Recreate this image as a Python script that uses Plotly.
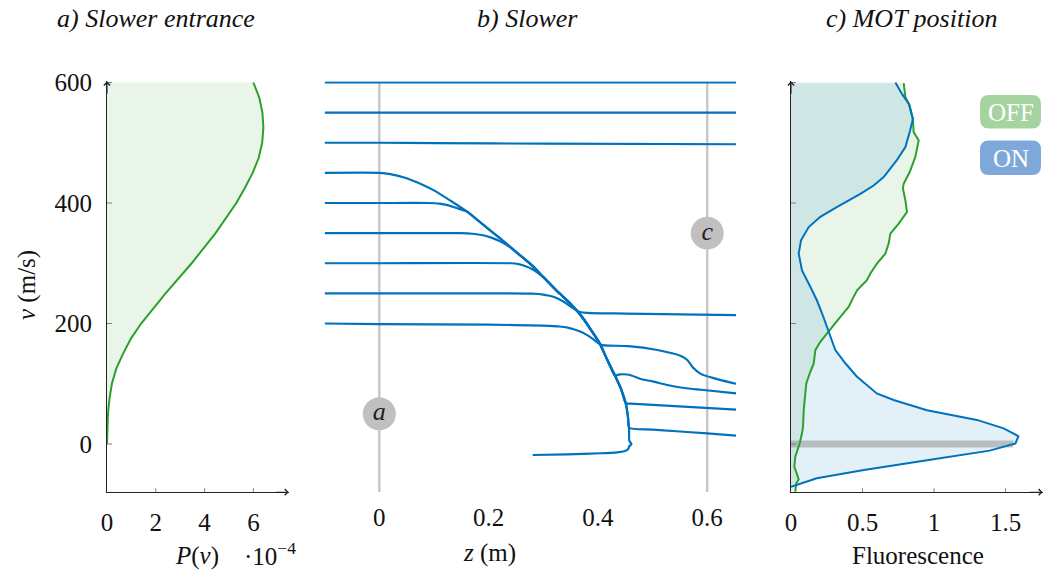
import numpy as np
import plotly.graph_objects as go

W, H = 1044, 575
FONT = "Liberation Serif"
BLUE = "#0072bd"
GREEN = "#2ca02c"
AXC = "#222222"
TICKC = "#808080"

# ---------------- panel a: velocity distribution at slower entrance ----------------
PA_V = [0, 25, 50, 75, 100, 125, 150, 175, 200, 250, 300, 350, 400, 425, 450, 475, 500, 525, 550, 575, 600]
PA_P = [0, 0.01, 0.04, 0.1, 0.2, 0.38, 0.66, 0.98, 1.4, 2.4, 3.47, 4.45, 5.3, 5.65, 5.97, 6.22, 6.36, 6.41, 6.37, 6.24, 6.0]
PA_XTICKS = [0, 2, 4, 6]
V_TICKS = [0, 200, 400, 600]

# ---------------- panel b: slower trajectories ----------------
ENV_Z = [0.0, 0.02, 0.05, 0.08, 0.10, 0.13, 0.16, 0.19, 0.22, 0.25, 0.28, 0.30, 0.325, 0.344,
         0.356, 0.37, 0.387, 0.40, 0.405, 0.417, 0.431, 0.443, 0.451, 0.455, 0.457, 0.4575]
ENV_V = [450, 448, 441, 430, 421, 404, 386, 364, 342, 319, 296, 277, 254, 238,
         227, 212, 190, 172, 164, 140, 114, 90, 67.5, 45, 27, 5]

T600_Z = [-0.1, 0.653]
T600_V = [600, 600]
T550_Z = [-0.1, 0.653]
T550_V = [550, 550]
T500_Z = [-0.1, 0.0, 0.1, 0.3, 0.653]
T500_V = [500, 500, 499.3, 498.5, 497.5]

# captured trajectories: pre-capture part, envelope span [z_in, z_out], post part
T450_PRE_Z = [-0.1]
T450_PRE_V = [450]
T450_ENV = (0.0, 0.4575)
T450_POST_Z = [0.4605, 0.4613, 0.4575, 0.455, 0.448, 0.4356, 0.405, 0.344, 0.2807]
T450_POST_V = [1.5, -0.5, -3.5, -9, -12, -13.8, -15.4, -17.1, -18.3]

T400_PRE_Z = [-0.1, 0.0, 0.09, 0.11, 0.125, 0.14]
T400_PRE_V = [400, 400, 400, 399, 396.5, 392]
T400_ENV = (0.16, 0.457)
T400_POST_Z = [0.5, 0.6, 0.653]
T400_POST_V = [24, 17.5, 14]

T350_PRE_Z = [-0.1, 0.0, 0.15, 0.17, 0.19, 0.205, 0.22, 0.235]
T350_PRE_V = [350, 350, 350, 349, 346.5, 342.5, 337, 329.5]
T350_ENV = (0.25, 0.451)
T350_POST_Z = [0.46, 0.653]
T350_POST_V = [67, 57]

T300_PRE_Z = [-0.1, 0.0, 0.24, 0.255, 0.268, 0.28, 0.29]
T300_PRE_V = [300, 300, 300, 298.5, 295, 290, 284]
T300_ENV = (0.30, 0.431)
T300_POST_Z = [0.44, 0.457, 0.478, 0.50, 0.527, 0.558, 0.589, 0.653]
T300_POST_V = [115.5, 115, 108, 104, 98, 93, 90, 84]

T250_PRE_Z = [-0.1, 0.0, 0.28, 0.30, 0.32, 0.336, 0.348, 0.358]
T250_PRE_V = [250, 250, 249.5, 248, 244, 237, 229.5, 223]
T250_ENV = None
T250_POST_Z = [0.366, 0.38, 0.45, 0.653]
T250_POST_V = [219.5, 217.5, 216.5, 214]

T200_PRE_Z = [-0.1, 0.0, 0.2, 0.3, 0.33, 0.35, 0.365, 0.378, 0.39]
T200_PRE_V = [200, 199, 198, 196.5, 195, 192, 187.5, 182, 175]
T200_ENV = None
T200_POST_Z = [0.40, 0.406, 0.42, 0.455, 0.509, 0.552, 0.564, 0.573, 0.589, 0.613, 0.653]
T200_POST_V = [168, 164.5, 163.3, 162.5, 156, 146, 139, 128, 116, 109, 100]

B_XTICKS = [0, 0.2, 0.4, 0.6]
B_XTICKTEXT = ["0", "0.2", "0.4", "0.6"]
MARK_Z = [0, 0.6]
MARK_V = [50, 350]
MARK_TEXT = ["a", "c"]

# ---------------- panel c: fluorescence at MOT position ----------------
OFF_V = [598.9, 575.7, 561.9, 537, 517.7, 503.9, 476.2, 451.4, 432, 423.8, 404.4, 385.1, 365.7,
         349.2, 332.6, 316, 299.4, 282.9, 271.8, 255.2, 244.2, 227.6, 211, 194.5, 183.4, 169.6,
         155.8, 133.7, 119.9, 100.6, 84, 56.4, 28.7, 17.7, 1.1, -21, -37.6, -48.6, -58.6, -65.2, -79]
OFF_F = [0.788, 0.8, 0.83, 0.853, 0.858, 0.893, 0.869, 0.83, 0.788, 0.783, 0.8, 0.811, 0.753,
         0.695, 0.683, 0.66, 0.601, 0.555, 0.531, 0.462, 0.438, 0.403, 0.345, 0.287, 0.252, 0.205,
         0.17, 0.159, 0.135, 0.107, 0.1, 0.089, 0.084, 0.077, 0.061, 0.03, 0.023, 0.042, 0.054, 0.037, 0.03]
ON_V = [600, 581, 565, 540, 518, 493, 471, 443, 429, 415, 393, 377, 360, 338, 316, 288, 261, 239,
        217, 194, 172, 156, 134, 112, 84, 73, 56, 40, 26, 13, 1, -11, -26, -43, -57, -71]
ON_F = [0.73, 0.776, 0.823, 0.853, 0.83, 0.8, 0.74, 0.648, 0.578, 0.485, 0.32, 0.205, 0.124, 0.07,
        0.054, 0.077, 0.135, 0.18, 0.217, 0.252, 0.287, 0.31, 0.38, 0.46, 0.6, 0.718, 0.951, 1.3,
        1.487, 1.59, 1.57, 1.39, 0.974, 0.51, 0.18, 0.0]
C_XTICKS = [0, 0.5, 1, 1.5]
C_XTICKTEXT = ["0", "0.5", "1", "1.5"]
LEGEND_LABELS = ["OFF", "ON"]

# ---------------- layout geometry (pixels) ----------------
V_RANGE = [-80, 602]
V0_PX, V_SCALE = 444.0, 0.6025
def vpx(v):
    return V0_PX - V_SCALE * v

def xd(p0, p1):
    return [p0 / W, p1 / W]

YDOM = [1 - vpx(V_RANGE[0]) / H, 1 - vpx(V_RANGE[1]) / H]
A_RANGE = [0, 7.45]
A_DOM = xd(107, 107 + 24.4 * A_RANGE[1])
B_RANGE = [-0.1, 0.653]
B_DOM = xd(379.3 + 546.5 * B_RANGE[0], 379.3 + 546.5 * B_RANGE[1])
C_RANGE = [0, 1.76]
C_DOM = xd(791, 791 + 143 * C_RANGE[1])


def px(x):
    return x / W


def py(y):
    return 1 - y / H


fig = go.Figure()

# panel a
fig.add_trace(go.Scatter(x=PA_P, y=PA_V, mode="lines", fill="tozerox",
                         fillcolor="rgba(44,160,44,0.10)", line=dict(color=GREEN, width=2),
                         xaxis="x", yaxis="y", hoverinfo="skip"))


def seg(pre_z, pre_v, env, post_z, post_v):
    z, v = list(pre_z), list(pre_v)
    if env is not None:
        for ez, ev in zip(ENV_Z, ENV_V):
            if env[0] - 1e-9 <= ez <= env[1] + 1e-9:
                z.append(ez)
                v.append(ev)
    return z + list(post_z), v + list(post_v)


trajs = [
    (T600_Z, T600_V),
    (T550_Z, T550_V),
    (T500_Z, T500_V),
    seg(T450_PRE_Z, T450_PRE_V, T450_ENV, T450_POST_Z, T450_POST_V),
    seg(T400_PRE_Z, T400_PRE_V, T400_ENV, T400_POST_Z, T400_POST_V),
    seg(T350_PRE_Z, T350_PRE_V, T350_ENV, T350_POST_Z, T350_POST_V),
    seg(T300_PRE_Z, T300_PRE_V, T300_ENV, T300_POST_Z, T300_POST_V),
    seg(T250_PRE_Z, T250_PRE_V, T250_ENV, T250_POST_Z, T250_POST_V),
    seg(T200_PRE_Z, T200_PRE_V, T200_ENV, T200_POST_Z, T200_POST_V),
]

# vertical position markers (drawn first, under trajectories)
for mz in MARK_Z:
    fig.add_trace(go.Scatter(x=[mz, mz], y=[V_RANGE[0], 600], mode="lines",
                             line=dict(color="#c8c8c8", width=2.5), xaxis="x2", yaxis="y2",
                             hoverinfo="skip"))

for z, v in trajs:
    fig.add_trace(go.Scatter(x=z, y=v, mode="lines", line=dict(color=BLUE, width=2.2, shape="spline",
                                                                smoothing=0.6),
                             xaxis="x2", yaxis="y2", hoverinfo="skip"))

fig.add_trace(go.Scatter(x=MARK_Z, y=MARK_V, mode="markers+text",
                         marker=dict(size=33, color="#c0c0c0"),
                         text=["<i>%s</i>" % t for t in MARK_TEXT], textposition="middle center",
                         textfont=dict(family=FONT, size=26, color="#222"),
                         xaxis="x2", yaxis="y2", hoverinfo="skip"))

# panel c fills
fig.add_trace(go.Scatter(x=OFF_F, y=OFF_V, mode="none", fill="tozerox",
                         fillcolor="rgba(44,160,44,0.10)", xaxis="x3", yaxis="y3", hoverinfo="skip"))
fig.add_trace(go.Scatter(x=ON_F, y=ON_V, mode="none", fill="tozerox",
                         fillcolor="rgba(0,114,189,0.11)", xaxis="x3", yaxis="y3", hoverinfo="skip"))
# MOT-position band at v = 0, up to the ON curve
on_at_zero = float(np.interp(0, ON_V[::-1], ON_F[::-1]))
fig.add_trace(go.Scatter(x=[0, on_at_zero], y=[0, 0], mode="lines",
                         line=dict(color="rgba(128,128,128,0.45)", width=7),
                         xaxis="x3", yaxis="y3", hoverinfo="skip"))
fig.add_trace(go.Scatter(x=OFF_F, y=OFF_V, mode="lines", line=dict(color=GREEN, width=2),
                         xaxis="x3", yaxis="y3", hoverinfo="skip"))
fig.add_trace(go.Scatter(x=ON_F, y=ON_V, mode="lines", line=dict(color=BLUE, width=2),
                         xaxis="x3", yaxis="y3", hoverinfo="skip"))

tickfont = dict(family=FONT, size=25, color="#111")
common_y = dict(range=V_RANGE, domain=YDOM, showgrid=False, zeroline=False, fixedrange=True,
                automargin=False)

fig.update_layout(
    width=W, height=H, margin=dict(l=0, r=0, t=0, b=0, pad=0, autoexpand=False),
    paper_bgcolor="white", plot_bgcolor="rgba(0,0,0,0)", showlegend=False,
    font=dict(family=FONT, size=25, color="#111"),
    xaxis=dict(domain=A_DOM, range=A_RANGE, anchor="y", showgrid=False, zeroline=False,
               showline=True, linecolor=AXC, linewidth=1, tickvals=PA_XTICKS, automargin=False,
               ticks="", ticklabelstandoff=8, tickfont=tickfont),
    yaxis=dict(**common_y, anchor="x", showline=True, linecolor=AXC, linewidth=1,
               tickvals=V_TICKS, ticks="", ticklabelstandoff=9, tickfont=tickfont),
    xaxis2=dict(domain=B_DOM, range=B_RANGE, anchor="y2", showgrid=False, zeroline=False,
                showline=False, tickvals=B_XTICKS, ticktext=B_XTICKTEXT, ticks="", automargin=False,
                ticklabelstandoff=8, tickfont=tickfont),
    yaxis2=dict(**common_y, anchor="x2", visible=False),
    xaxis3=dict(domain=C_DOM, range=C_RANGE, anchor="y3", showgrid=False, zeroline=False,
                showline=True, linecolor=AXC, linewidth=1, tickvals=C_XTICKS, automargin=False,
                ticktext=C_XTICKTEXT, ticks="", ticklabelstandoff=8, tickfont=tickfont),
    yaxis3=dict(**common_y, anchor="x3", showline=True, linecolor=AXC, linewidth=1,
                showticklabels=False, ticks=""),
)

shapes = []
# crossing tick marks
for xa, ya, xticks in (("x", "y", PA_XTICKS), ("x3", "y3", C_XTICKS)):
    for t in xticks:
        if t == 0:
            continue
        shapes.append(dict(type="line", xref=xa, yref=ya, x0=t, x1=t, ysizemode="pixel",
                           yanchor=V_RANGE[0], y0=-4, y1=4, line=dict(color=TICKC, width=1)))
    for t in V_TICKS:
        shapes.append(dict(type="line", xref=xa, yref=ya, y0=t, y1=t, xsizemode="pixel",
                           xanchor=0, x0=-5, x1=5, line=dict(color=TICKC, width=1)))

# rounded legend boxes
def rrect(x0, y0, x1, y1, r):
    X0, X1 = px(x0), px(x1)
    Y0, Y1 = py(y0), py(y1)
    rx, ry = r / W, r / H
    return (f"M{X0+rx},{Y0} L{X1-rx},{Y0} Q{X1},{Y0} {X1},{Y0-ry} L{X1},{Y1+ry} "
            f"Q{X1},{Y1} {X1-rx},{Y1} L{X0+rx},{Y1} Q{X0},{Y1} {X0},{Y1+ry} L{X0},{Y0-ry} "
            f"Q{X0},{Y0} {X0+rx},{Y0} Z")

LEG_COLORS = ["#a6d4a0", "#7ea8da"]
LEG_BOX_Y = [(95, 128.5), (140.5, 175)]
for (y0, y1), col in zip(LEG_BOX_Y, LEG_COLORS):
    shapes.append(dict(type="path", xref="paper", yref="paper", path=rrect(980, y0, 1041, y1, 9),
                       fillcolor=col, line=dict(width=0), layer="above"))
fig.update_layout(shapes=shapes)

ann = []
def label(text, x, y, size=25, angle=0, color="#111", xanchor="center"):
    ann.append(dict(text=text, x=px(x), y=py(y), xref="paper", yref="paper", showarrow=False,
                    xanchor=xanchor, yanchor="middle", textangle=angle,
                    font=dict(family=FONT, size=size, color=color)))

label("<i>a) Slower entrance</i>", 156, 19, size=26)
label("<i>b) Slower</i>", 527, 19, size=26)
label("<i>c) MOT position</i>", 911, 19, size=26)
label("<i>v</i> (m/s)", 27, 285, angle=-90)
label("<i>P</i>(<i>v</i>)", 197, 556)
label("·10<sup>−4</sup>", 270, 554)
label("<i>z</i> (m)", 489, 553)
label("Fluorescence", 918, 555)
for (y0, y1), t in zip(LEG_BOX_Y, LEGEND_LABELS):
    label(t, 1010.5, (y0 + y1) / 2 + 1, size=25, color="white")

# axis arrows
def arrow(xref, yref, x, y, ax, ay):
    ann.append(dict(text="", x=x, y=y, xref=xref, yref=yref, ax=ax, ay=ay, showarrow=True,
                    arrowhead=4, arrowsize=1.1, arrowwidth=1.1, arrowcolor=AXC, standoff=0))

arrow("x", "y", 0, V_RANGE[1], 0, 14)
arrow("x", "y", A_RANGE[1], V_RANGE[0], -14, 0)
arrow("x3", "y3", 0, V_RANGE[1], 0, 14)
arrow("x3", "y3", C_RANGE[1], V_RANGE[0], -14, 0)
fig.update_layout(annotations=ann)

fig.write_html("out.html", config={"displayModeBar": False},
               post_script="document.body.style.margin='0';document.body.style.overflow='hidden';")
